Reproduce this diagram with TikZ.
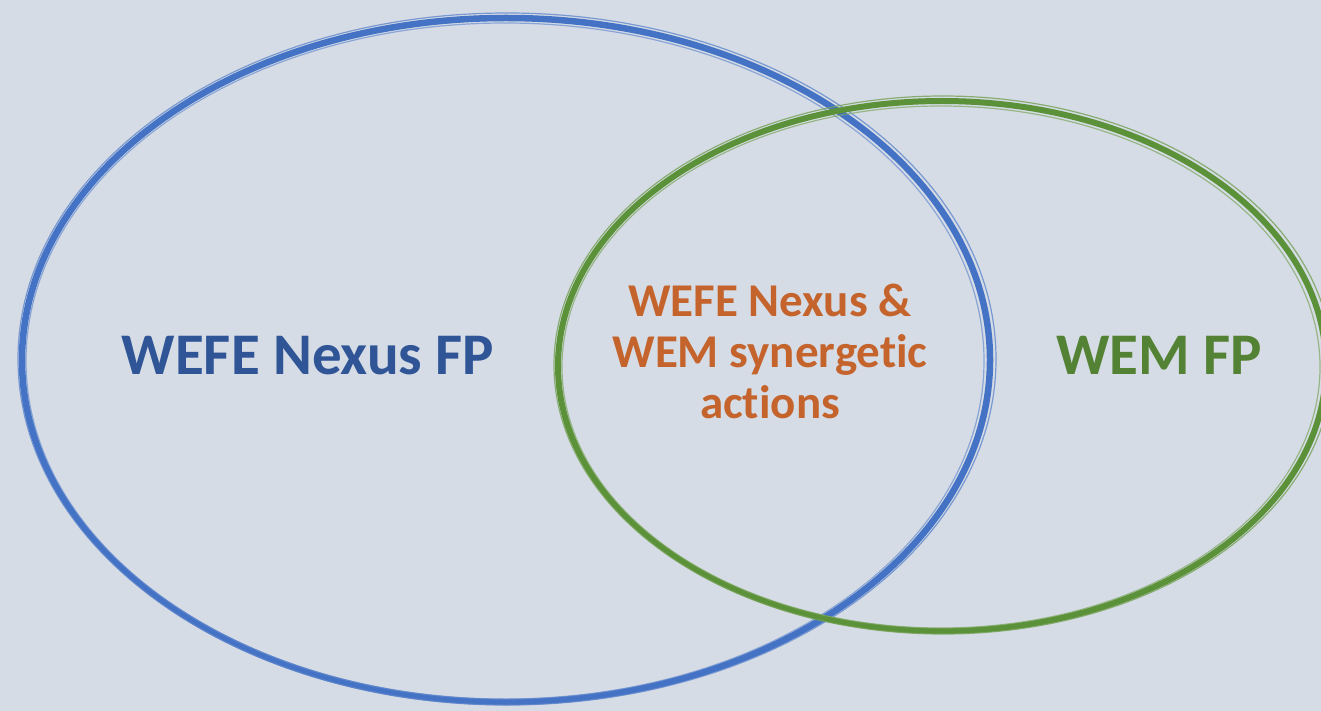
\documentclass[tikz,border=0pt]{standalone}
\usepackage{fontspec}
\setmainfont{Carlito}[Ligatures=NoCommon]
\definecolor{bgc}{HTML}{D6DCE5}
\definecolor{blueline}{HTML}{4472C4}
\definecolor{bluetext}{HTML}{2F5597}
\definecolor{greenline}{HTML}{5B9138}
\definecolor{greentext}{HTML}{548235}
\definecolor{orangetext}{HTML}{C4642C}
\begin{document}
\begin{tikzpicture}[x=1pt,y=-1pt,
  lbl/.style={font=\bfseries\fontsize{59}{62}\selectfont, align=center, inner sep=0pt, anchor=base}]
\fill[bgc] (0,0) rectangle (1321,711);
\useasboundingbox (0,0) rectangle (1321,711);
\begin{scope}
\clip (0,0) rectangle (1321,711);
% blue ellipse
\draw[blueline, line width=6.5pt] (506,360) ellipse [x radius=484, y radius=342];
\draw[blueline!85!white, line width=1.2pt, opacity=0.8] (507,359) ellipse [x radius=489, y radius=346];
\draw[blueline!80!white, line width=1.2pt, opacity=0.7] (505,361) ellipse [x radius=479, y radius=338];
% green ellipse
\draw[greenline, line width=6pt] (942,366) ellipse [x radius=384, y radius=265];
\draw[greenline!85!white, line width=1.2pt, opacity=0.8] (943,365) ellipse [x radius=389, y radius=269];
\draw[greenline!80!white, line width=1.2pt, opacity=0.7] (941,367) ellipse [x radius=379, y radius=261];
\end{scope}
\node[lbl, text=bluetext] (wefe) at (308,374) {WEFE Nexus FP};
\node[lbl, text=greentext] (wem) at (1159,374) {WEM FP};
\node[lbl, text=orangetext, font=\bfseries\fontsize{47}{51}\selectfont] (both) at (770,418)
  {WEFE Nexus \&\\WEM synergetic\\actions};
\end{tikzpicture}
\end{document}
